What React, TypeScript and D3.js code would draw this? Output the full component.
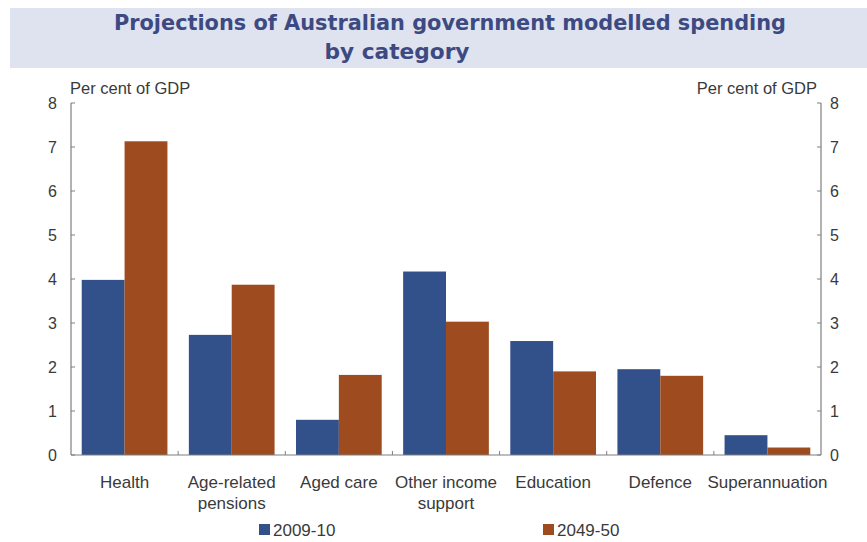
import React from "react";
import * as d3 from "d3";

const categories = ["Health", "Age-related\npensions", "Aged care", "Other income\nsupport", "Education", "Defence", "Superannuation"];
const series2009 = [3.98, 2.73, 0.8, 4.17, 2.59, 1.95, 0.45];
const series2049 = [7.13, 3.87, 1.82, 3.03, 1.9, 1.8, 0.17];
const seriesNames = ["2009-10", "2049-50"];
const yTicks = [0, 1, 2, 3, 4, 5, 6, 7, 8];

const W = 867, H = 542;
const left = 71, right = 821, top = 103, bottom = 455;
const BLUE = "#32508a";
const ORANGE = "#9e4c1f";
const AXIS = "#7f7f7f";
const TEXT = "#3a3a3a";
const FONT = "'Liberation Sans', Arial, sans-serif";

export default function App() {
  const x = d3.scaleBand<string>().domain(categories).range([left, right]).paddingInner(0.2).paddingOuter(0.1);
  const x1 = d3.scaleBand<number>().domain([0, 1]).range([0, x.bandwidth()]);
  const y = d3.scaleLinear().domain([0, 8]).range([bottom, top]);
  const step = (right - left) / categories.length;
  const data = [series2009, series2049];
  const colors = [BLUE, ORANGE];

  return (
    <svg width={W} height={H} style={{ position: "absolute", left: 0, top: 0, background: "#fff" }} fontFamily={FONT}>
      <rect x={10} y={8} width={857} height={60} fill="#dfe2ef" />
      <text x={450} y={30} textAnchor="middle" fontSize={21} fontWeight="bold" fill="#3d4a82" fontFamily="'DejaVu Sans', sans-serif" textLength={672} lengthAdjust="spacingAndGlyphs">Projections of Australian government modelled spending</text>
      <text x={397} y={59} textAnchor="middle" fontSize={21} fontWeight="bold" fill="#3d4a82" fontFamily="'DejaVu Sans', sans-serif" textLength={145} lengthAdjust="spacingAndGlyphs">by category</text>

      <text x={70} y={94} fontSize={16.5} fill={TEXT}>Per cent of GDP</text>
      <text x={817} y={94} fontSize={16.5} fill={TEXT} textAnchor="end">Per cent of GDP</text>

      {data.map((s, si) =>
        s.map((v, i) => (
          <rect key={`${si}-${i}`} x={(x(categories[i]) as number) + (x1(si) as number)} y={y(v)} width={x1.bandwidth()} height={bottom - y(v)} fill={colors[si]} />
        ))
      )}

      <line x1={left} x2={left} y1={top} y2={bottom} stroke={AXIS} strokeWidth={1.2} />
      <line x1={right} x2={right} y1={top} y2={bottom} stroke={AXIS} strokeWidth={1.2} />
      <line x1={left} x2={right} y1={bottom} y2={bottom} stroke={AXIS} strokeWidth={1.2} />
      {yTicks.map((t) => (
        <g key={t}>
          <line x1={left} x2={left + 4} y1={y(t)} y2={y(t)} stroke={AXIS} />
          <line x1={right - 4} x2={right} y1={y(t)} y2={y(t)} stroke={AXIS} />
          <text x={57} y={y(t) + 6} fontSize={16} textAnchor="end" fill={TEXT}>{t}</text>
          <text x={830} y={y(t) + 6} fontSize={16} fill={TEXT}>{t}</text>
        </g>
      ))}
      {d3.range(1, categories.length).map((i) => (
        <line key={i} x1={left + i * step} x2={left + i * step} y1={bottom} y2={bottom - 4} stroke={AXIS} />
      ))}
      {categories.map((c) => {
        const cx = (x(c) as number) + x.bandwidth() / 2;
        return (
          <text key={c} x={cx} y={488} fontSize={17} textAnchor="middle" fill={TEXT}>
            {c.split("\n").map((line, li) => (
              <tspan key={li} x={cx} dy={li === 0 ? 0 : 21}>{line}</tspan>
            ))}
          </text>
        );
      })}

      <rect x={259} y={524} width={11} height={11} fill={BLUE} />
      <text x={273} y={536} fontSize={17} fill={TEXT}>{seriesNames[0]}</text>
      <rect x={543} y={524} width={11} height={11} fill={ORANGE} />
      <text x={557} y={536} fontSize={17} fill={TEXT}>{seriesNames[1]}</text>
    </svg>
  );
}
